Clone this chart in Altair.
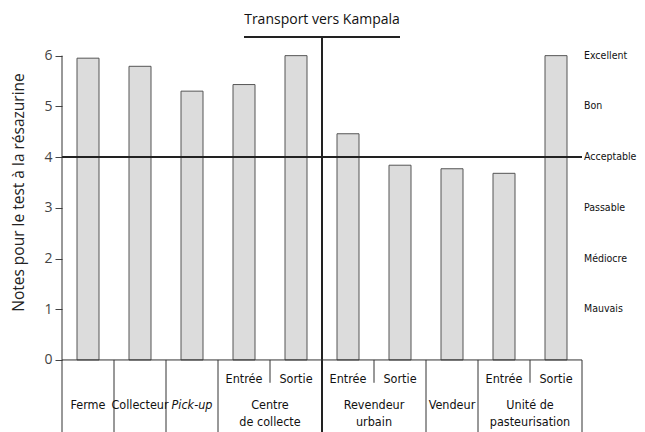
import altair as alt
import pandas as pd

# ---- data ----
stages = ["Ferme", "Collecteur", "Pick-up", "Centre\nde collecte",
          "Revendeur\nurbain", "Vendeur", "Unité de\npasteurisation"]
substages = [[""], [""], [""], ["Entrée", "Sortie"], ["Entrée", "Sortie"],
             [""], ["Entrée", "Sortie"]]
scores = [5.95, 5.79, 5.30, 5.43, 6.00, 4.46, 3.84, 3.77, 3.68, 6.00]
y_ticks = [0, 1, 2, 3, 4, 5, 6]
quality_values = [1, 2, 3, 4, 5, 6]
quality_labels = ["Mauvais", "Médiocre", "Passable", "Acceptable", "Bon", "Excellent"]
threshold = 4
transport_label = "Transport vers Kampala"
transport_start_stage = 3   # transport starts after "Centre de collecte"
y_title = "Notes pour le test à la résazurine"

# ---- layout constants ----
PLOT_H = 422
UNIT = 50.72
Y_MAX = 6.9
Y_MIN = Y_MAX - PLOT_H / UNIT
TRANSPORT_Y = 6.37
TRANSPORT_TEXT_Y = 6.70
SUB_LABEL_Y = -0.37
HALF_SEP_Y = -0.45
STAGE_LABEL_Y = -0.76

FONT = "Open Sans"
NARROW = "Liberation Sans Narrow, DejaVu Sans Condensed, Roboto Condensed, Roboto, sans-serif"
NSIZE = 12.5

# ---- derived tables ----
bar_rows, stage_rows, sub_rows, full_seps, half_seps = [], [], [], [], []
slot = 0
for si, (st, subs) in enumerate(zip(stages, substages)):
    start = slot
    for k, sub in enumerate(subs):
        bar_rows.append({"x": slot + 0.5, "score": scores[slot]})
        if sub:
            sub_rows.append({"x": slot + 0.5, "label": sub})
        if k > 0:
            half_seps.append({"x": slot})
        slot += 1
    stage_rows.append({"x": (start + slot) / 2, "label": st,
                       "italic": st == "Pick-up"})
    full_seps.append({"x": slot})
n_slots = slot
divider_x = sum(len(s) for s in substages[:transport_start_stage + 1])
t_start = divider_x - 1.5
t_end = divider_x + 1.5

bars = pd.DataFrame(bar_rows)
stage_df = pd.DataFrame(stage_rows)
sub_df = pd.DataFrame(sub_rows)
full_df = pd.DataFrame(full_seps)
full_df = full_df[full_df.x != divider_x]
half_df = pd.DataFrame(half_seps)

xs = alt.Scale(domain=[0, n_slots], nice=False, zero=False, padding=0)
ys = alt.Scale(domain=[Y_MIN, Y_MAX], nice=False, zero=False, padding=0)

left_axis = alt.Axis(values=y_ticks, title=y_title, domain=False, grid=False,
                     tickSize=7, tickColor="#444", labelColor="#444",
                     labelFont=FONT, labelFontSize=14, labelPadding=3,
                     titleFont=FONT, titleFontSize=15.5, titleFontWeight="normal",
                     titleColor="#222", titleX=-44, titleY=182, titleAngle=-90,
                     titleBaseline="middle")

X = lambda f: alt.X(f, scale=xs, axis=None)
Y = lambda f: alt.Y(f, scale=ys, axis=left_axis)
YD = lambda v: alt.datum(v, scale=ys, axis=left_axis)

bar_layer = alt.Chart(bars).mark_bar(width=22, fill="#dcdcdc", stroke="#555",
                                     strokeWidth=1).encode(
    x=X("x:Q"), y=Y("score:Q"), y2=alt.datum(0))

thr = alt.Chart(pd.DataFrame({"x": [0], "x2": [n_slots], "y": [threshold]})).mark_rule(
    strokeWidth=2, color="#222").encode(x=X("x:Q"), x2="x2:Q", y=Y("y:Q"))

divider = alt.Chart(pd.DataFrame({"x": [divider_x], "y": [Y_MIN], "y2": [TRANSPORT_Y]})).mark_rule(
    strokeWidth=2, color="#222").encode(x=X("x:Q"), y=Y("y:Q"), y2="y2:Q")

transport = alt.Chart(pd.DataFrame({"x": [t_start], "x2": [t_end], "y": [TRANSPORT_Y]})).mark_rule(
    strokeWidth=2, color="#222").encode(x=X("x:Q"), x2="x2:Q", y=Y("y:Q"))

transport_txt = alt.Chart(pd.DataFrame({"x": [divider_x], "y": [TRANSPORT_TEXT_Y],
                                        "t": [transport_label]})).mark_text(
    font=FONT, fontSize=14, color="#111", baseline="middle").encode(
    x=X("x:Q"), y=Y("y:Q"), text="t:N")

left_line = alt.Chart(pd.DataFrame({"x": [0], "y": [Y_MIN], "y2": [6]})).mark_rule(
    strokeWidth=1, color="#333").encode(x=X("x:Q"), y=Y("y:Q"), y2="y2:Q")

base_line = alt.Chart(pd.DataFrame({"x": [0], "x2": [n_slots], "y": [0]})).mark_rule(
    strokeWidth=1, color="#333").encode(x=X("x:Q"), x2="x2:Q", y=Y("y:Q"))

full_lines = alt.Chart(full_df).mark_rule(strokeWidth=1, color="#333").encode(
    x=X("x:Q"), y=YD(Y_MIN), y2=alt.datum(0))

half_lines = alt.Chart(half_df).mark_rule(strokeWidth=1, color="#333").encode(
    x=X("x:Q"), y=YD(HALF_SEP_Y), y2=alt.datum(0))

sub_txt = alt.Chart(sub_df).mark_text(font=NARROW, fontSize=NSIZE, color="#111",
                                      baseline="middle").encode(
    x=X("x:Q"), y=YD(SUB_LABEL_Y), text="label:N")

stage_txt = alt.Chart(stage_df[~stage_df.italic]).mark_text(
    font=NARROW, fontSize=NSIZE, color="#111", baseline="top", lineBreak="\n",
    lineHeight=17).encode(x=X("x:Q"), y=YD(STAGE_LABEL_Y), text="label:N")

stage_it = alt.Chart(stage_df[stage_df.italic]).mark_text(
    font=NARROW, fontSize=NSIZE, color="#111", baseline="top", fontStyle="italic").encode(
    x=X("x:Q"), y=YD(STAGE_LABEL_Y), text="label:N")

quality = alt.Chart(pd.DataFrame({"v": quality_values, "label": quality_labels,
                                  "x": [n_slots] * len(quality_values)})).mark_text(
    font=NARROW, fontSize=10.5, color="#111", align="left", baseline="middle", dx=2).encode(
    x=X("x:Q"), y=Y("v:Q"), text="label:N")

chart = alt.layer(bar_layer, thr, divider, transport, transport_txt, left_line,
                  base_line, full_lines, half_lines, sub_txt, stage_txt, stage_it,
                  quality).properties(
    width=520, height=PLOT_H,
    padding={"left": 54, "top": 2, "right": 55, "bottom": 0},
    autosize=alt.AutoSizeParams(type="none"),
    background="white",
).configure_view(strokeWidth=0, stroke="transparent")

chart.save("out.html", embed_options={"renderer": "svg", "actions": False})
